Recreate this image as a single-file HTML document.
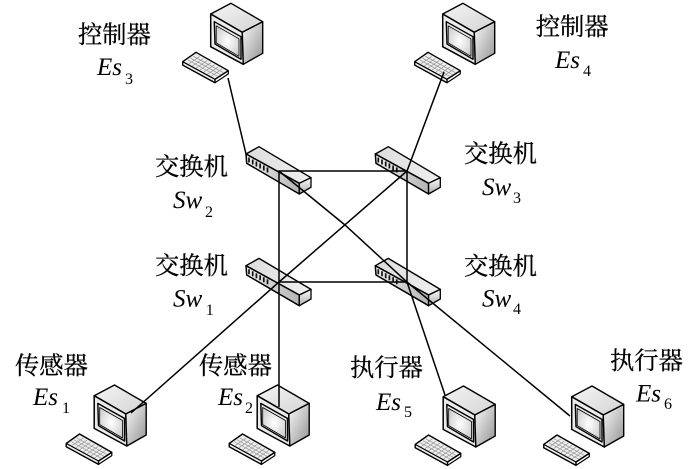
<!DOCTYPE html>
<html><head><meta charset="utf-8">
<style>
html,body{margin:0;padding:0;background:#fff;width:700px;height:469px;overflow:hidden}
svg{display:block;filter:blur(.35px)}
.c{font-family:"Liberation Serif","Noto Serif CJK SC",serif;font-size:24.3px;fill:#000;stroke:#000;stroke-width:.3px}
.e{font-family:"Liberation Serif",serif;font-style:italic;font-size:25px;fill:#000}
.s{font-family:"Liberation Serif",serif;font-size:16px;fill:#000}
</style></head><body>
<svg width="700" height="469" viewBox="0 0 700 469" xmlns="http://www.w3.org/2000/svg">
<defs>
<linearGradient id="top" x1="0" y1="0" x2="1" y2="1"><stop offset="0" stop-color="#f4f4f4"/><stop offset="1" stop-color="#d4d4d4"/></linearGradient>
<linearGradient id="side" x1="0" y1="0" x2="1" y2="1"><stop offset="0" stop-color="#fafafa"/><stop offset="1" stop-color="#929292"/></linearGradient>
<radialGradient id="scr" cx=".5" cy=".5" r=".7"><stop offset="0" stop-color="#ffffff"/><stop offset="1" stop-color="#c6c6c6"/></radialGradient>
<linearGradient id="stop" x1="0" y1="0" x2="1" y2="0"><stop offset="0" stop-color="#dcdcdc"/><stop offset="1" stop-color="#f0f0f0"/></linearGradient>
<linearGradient id="sfr" x1="0" y1="0" x2="1" y2="0"><stop offset="0" stop-color="#eeeeee"/><stop offset="1" stop-color="#b4b4b4"/></linearGradient>
<linearGradient id="send" x1="0" y1="0" x2="0" y2="1"><stop offset="0" stop-color="#fafafa"/><stop offset="1" stop-color="#b0b0b0"/></linearGradient>
<g id="pc" stroke="#000" stroke-linejoin="round">
<path d="M0 0L-20.3 10.7L11.3 29L31.7 18.4Z" fill="url(#top)" stroke-width="1.4"/>
<path d="M-20.3 10.7L11.3 29L12.3 61L-20.3 43.4Z" fill="#ebebeb" stroke-width="1.5"/>
<path d="M11.3 29L31.7 18.4L31.7 50L12.3 61Z" fill="url(#side)" stroke-width="1.4"/>
<path d="M-16.7 18.4L10 33.4L10 56L-16 40.7Z" fill="#e6e6e6" stroke-width="1.4"/>
<path d="M-14.8 22.5L8 35.5L8 53L-14.8 39.6Z" fill="url(#scr)" stroke-width=".8"/>
<path d="M-48.3 58.4L-35 49L-2.7 67.4L-16 76L-16 79.4L-48.3 61.8Z" fill="#ededed" stroke-width="1.4"/>
<path d="M-48.3 58.4L-16 76L-2.7 67.4L-2.7 70.6L-16 79.4" fill="none" stroke-width="1.2"/>
<g stroke="#8a8a8a" stroke-width=".6" fill="none">
<path d="M-43.25 56.6L-13.25 73.1M-40.5 54.75L-10.5 71.25M-37.75 52.9L-7.75 69.4"/>
<path d="M-42.25 60.56L-31.25 53.06M-38.5 62.6L-27.5 55.1M-34.75 64.7L-23.75 57.2M-31 66.75L-20 59.25M-27.25 68.8L-16.25 61.3M-23.5 70.9L-12.5 63.4M-19.75 72.9L-8.75 65.4"/>
</g>
</g>
<g id="sw" stroke="#000" stroke-linejoin="round">
<path d="M0 0L13 -7.3L65 23.7L53.3 29.3Z" fill="url(#stop)" stroke-width="1.4"/>
<path d="M0 0L53.3 29.3L53.3 40L.7 9.3Z" fill="url(#sfr)" stroke-width="1.5"/>
<path d="M53.3 29.3L65 23.7L65 33.3L53.3 40Z" fill="url(#send)" stroke-width="1.3"/>
<path d="M3 3.5V8.5M6.7 5.5V10.5M10.4 7.5V12.5M14.1 9.5V14.5M17.8 11.5V16.5M21.5 13.5V18.5" fill="none" stroke="#111" stroke-width="1.7"/>
</g>
</defs>

<use href="#pc" x="231" y="3.3"/>
<use href="#pc" x="463" y="3.3"/>
<use href="#pc" x="114.5" y="385"/>
<use href="#pc" x="277.5" y="385"/>
<use href="#pc" x="463.5" y="386"/>
<use href="#pc" x="592" y="386"/>

<use href="#sw" x="246" y="154"/>
<use href="#sw" x="375.3" y="154"/>
<use href="#sw" x="246" y="265.7"/>
<use href="#sw" x="375.3" y="265.7"/>

<g stroke="#000" stroke-width="1.5" fill="none">
<path d="M279 171H407V282H279Z"/>
<path d="M279 282V407"/>
<path d="M228 78L246 154"/>
<path d="M444 72L407 171L279 282L131 413"/>
<path d="M279 171L345 225L407 282L570 416"/>
<path d="M407 282L445 395"/>
</g>

<text class="c" x="78" y="43">控制器</text>
<text class="e" x="97" y="75">Es</text><text class="s" x="125" y="84">3</text>
<text class="c" x="535.7" y="35">控制器</text>
<text class="e" x="555" y="68">Es</text><text class="s" x="583" y="76">4</text>
<text class="c" x="155" y="175">交换机</text>
<text class="e" x="173" y="208">Sw</text><text class="s" x="205" y="217">2</text>
<text class="c" x="464" y="162">交换机</text>
<text class="e" x="482" y="195">Sw</text><text class="s" x="513" y="203">3</text>
<text class="c" x="155" y="274">交换机</text>
<text class="e" x="173" y="306.7">Sw</text><text class="s" x="205.7" y="315">1</text>
<text class="c" x="464" y="274.5">交换机</text>
<text class="e" x="482" y="306.7">Sw</text><text class="s" x="513" y="314">4</text>
<text class="c" x="15" y="374">传感器</text>
<text class="e" x="33" y="405">Es</text><text class="s" x="62" y="413">1</text>
<text class="c" x="199" y="374">传感器</text>
<text class="e" x="218" y="405">Es</text><text class="s" x="245" y="413">2</text>
<text class="c" x="350" y="376">执行器</text>
<text class="e" x="376" y="410">Es</text><text class="s" x="404" y="417">5</text>
<text class="c" x="610" y="369">执行器</text>
<text class="e" x="636" y="401.7">Es</text><text class="s" x="664" y="409">6</text>
</svg>
</body></html>
